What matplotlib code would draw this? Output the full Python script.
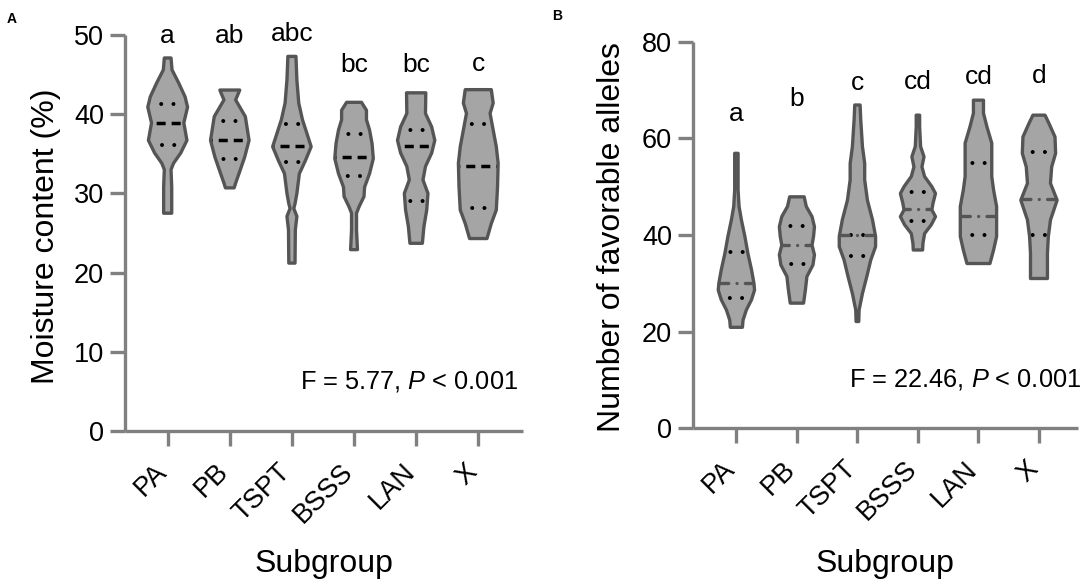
import numpy as np
import matplotlib
matplotlib.use("Agg")
import matplotlib.pyplot as plt
from matplotlib.patches import Polygon
from matplotlib.transforms import ScaledTranslation

# ---- data ----
subgroups = ["PA", "PB", "TSPT", "BSSS", "LAN", "X"]

# panel A: moisture content (%), violin outline (y from top to bottom, half width in category units)
moist_y = [
    [47.1, 45.6, 43.9, 42.2, 40.9, 38.9, 36.7, 35.1, 33.8, 33.0, 30.8, 27.5],
    [43.05, 41.8, 39.7, 36.7, 34.6, 33.0, 31.3, 30.7],
    [47.3, 44.3, 41.4, 39.3, 37.6, 35.9, 34.2, 32.5, 30.0, 28.7, 28.1, 27.1, 25.4, 21.2],
    [41.5, 40.5, 39.3, 38.0, 36.3, 34.4, 32.5, 30.8, 29.6, 28.3, 27.5, 25.4, 22.9],
    [42.7, 40.1, 38.4, 36.7, 35.1, 33.4, 31.7, 30.0, 27.9, 25.8, 23.7],
    [43.1, 41.4, 40.1, 38.0, 35.9, 33.8, 30.8, 27.9, 26.2, 24.3],
]
moist_w = [
    [0.054, 0.07, 0.18, 0.28, 0.32, 0.26, 0.31, 0.21, 0.094, 0.054, 0.065, 0.065],
    [0.16, 0.094, 0.25, 0.31, 0.24, 0.17, 0.094, 0.07],
    [0.065, 0.08, 0.11, 0.17, 0.24, 0.31, 0.22, 0.12, 0.08, 0.05, 0.03, 0.08, 0.055, 0.05],
    [0.12, 0.20, 0.20, 0.25, 0.29, 0.31, 0.25, 0.17, 0.16, 0.08, 0.04, 0.04, 0.055],
    [0.155, 0.15, 0.25, 0.30, 0.25, 0.15, 0.11, 0.19, 0.17, 0.125, 0.10],
    [0.21, 0.24, 0.19, 0.24, 0.29, 0.32, 0.31, 0.29, 0.21, 0.14],
]
moist_median = [38.9, 36.7, 36.0, 34.6, 36.0, 33.4]
moist_q1 = [36.1, 34.4, 34.0, 32.2, 29.0, 28.1]
moist_q3 = [41.3, 39.2, 38.8, 37.5, 38.0, 38.8]
moist_letters = ["a", "ab", "abc", "bc", "bc", "c"]
moist_letter_y = [49.0, 49.0, 49.2, 45.3, 45.3, 45.4]

# panel B: number of favorable alleles
allele_y = [
    [56.9, 49.3, 45.9, 43.1, 39.7, 36.2, 32.8, 30.0, 28.6, 26.6, 24.5, 22.4, 20.9],
    [47.9, 45.9, 43.8, 41.7, 39.7, 37.9, 35.9, 33.8, 31.4, 28.6, 25.9],
    [66.9, 63.8, 58.3, 54.8, 51.4, 47.2, 43.1, 39.7, 37.6, 34.8, 31.4, 27.9, 24.5, 22.1],
    [64.8, 62.4, 58.3, 56.2, 54.1, 52.1, 50.0, 48.6, 46.6, 45.2, 43.8, 42.1, 40.3, 38.3, 36.9],
    [67.9, 65.2, 62.4, 59.0, 55.5, 52.1, 49.3, 45.9, 43.1, 39.7, 36.9, 34.1],
    [64.8, 63.1, 60.3, 56.9, 54.1, 50.7, 47.2, 45.9, 43.1, 39.7, 36.2, 31.0],
]
allele_w = [
    [0.028, 0.028, 0.044, 0.083, 0.14, 0.19, 0.25, 0.29, 0.30, 0.25, 0.165, 0.11, 0.10],
    [0.12, 0.155, 0.25, 0.29, 0.275, 0.25, 0.29, 0.265, 0.165, 0.14, 0.11],
    [0.044, 0.055, 0.083, 0.12, 0.12, 0.165, 0.25, 0.30, 0.30, 0.22, 0.155, 0.083, 0.028, 0.022],
    [0.028, 0.028, 0.044, 0.10, 0.066, 0.11, 0.23, 0.29, 0.25, 0.23, 0.29, 0.22, 0.11, 0.083, 0.077],
    [0.083, 0.083, 0.14, 0.22, 0.22, 0.22, 0.25, 0.30, 0.30, 0.30, 0.25, 0.19],
    [0.10, 0.165, 0.265, 0.275, 0.21, 0.19, 0.30, 0.265, 0.19, 0.155, 0.14, 0.14],
]
allele_median = [30.0, 37.9, 39.9, 45.4, 43.9, 47.4]
allele_q1 = [27.0, 33.9, 35.7, 42.9, 40.0, 40.0]
allele_q3 = [36.4, 41.9, 40.1, 49.0, 55.0, 57.2]
allele_letters = ["a", "b", "c", "cd", "cd", "d"]
allele_letter_y = [63.6, 66.7, 70.1, 70.3, 71.2, 71.5]

# ---- style ----
FIG_W, FIG_H = 10.84, 5.8
plt.rcParams["font.family"] = ["Liberation Sans", "DejaVu Sans"]
plt.rcParams["mathtext.fontset"] = "custom"
plt.rcParams["mathtext.rm"] = "Liberation Sans"
plt.rcParams["mathtext.it"] = "Liberation Sans:italic"
plt.rcParams["lines.scale_dashes"] = False

axis_grey = "#808080"
fill_grey = "#a5a5a5"
edge_grey = "#555555"

fig = plt.figure(figsize=(FIG_W, FIG_H), dpi=100)
axA = fig.add_axes([125 / 1084, 1 - 431 / 580, 398 / 1084, 396 / 580])
axB = fig.add_axes([693 / 1084, 1 - 428.3 / 580, 385 / 1084, 386.6 / 580])


def style_axes(ax, xlim, ylim, yticks):
    ax.set_xlim(*xlim)
    ax.set_ylim(*ylim)
    ax.set_yticks(yticks)
    ax.set_xticks(range(len(subgroups)))
    ax.set_xticklabels(subgroups, rotation=45, ha="right", va="top")
    for s in ["top", "right"]:
        ax.spines[s].set_visible(False)
    for s in ["left", "bottom"]:
        ax.spines[s].set_color(axis_grey)
        ax.spines[s].set_linewidth(2.4)
        ax.spines[s].set_capstyle("butt")
    ax.tick_params(axis="both", colors=axis_grey, width=2.4, length=11,
                   labelcolor="black", labelsize=19.5)
    ax.tick_params(axis="x", pad=9)
    ax.tick_params(axis="y", pad=4)
    off = ScaledTranslation(4 / 100, 0, fig.dpi_scale_trans)
    for lab in ax.get_xticklabels():
        lab.set_transform(lab.get_transform() + off)


def centred_style(length, pattern, phase_at_centre):
    period = sum(pattern)
    return ((phase_at_centre - length / 2) % period, pattern)


def draw_violins(ax, ys, ws, med, q1, q3, median_kind):
    xl = ax.get_xlim()
    ppu = ax.get_position().width * FIG_W * 72 / (xl[1] - xl[0])
    for i in range(len(ys)):
        y = np.array(ys[i])
        w = np.array(ws[i])
        pts = np.concatenate([np.column_stack([i + w, y]),
                              np.column_stack([i - w[::-1], y[::-1]])])
        body = Polygon(pts, closed=True, facecolor=fill_grey, edgecolor="none",
                       zorder=2)
        ax.add_patch(body)

        # quartiles: black dots, kept clear of the outline
        for q in (q1[i], q3[i]):
            hw = np.interp(q, y[::-1], w[::-1]) - 2.0 / ppu
            L = 2 * hw * ppu
            pat = (0.01, 8.8)
            ln, = ax.plot([i - hw, i + hw], [q, q], color="black", lw=2.9,
                          solid_capstyle="round", dash_capstyle="round",
                          linestyle=centred_style(L, pat, 0.01 + 4.4), zorder=3)
            ln.set_clip_path(body)

        hw = np.interp(med[i], y[::-1], w[::-1])
        L = 2 * hw * ppu
        if median_kind == "dash":
            pat = (6.5, 4.3)
            ln, = ax.plot([i - hw, i + hw], [med[i], med[i]], color="black",
                          lw=2.5, dash_capstyle="butt",
                          linestyle=centred_style(L, pat, 6.5 + 2.15), zorder=4)
        else:
            pat = (6.0, 6.0, 0.01, 6.0)
            ln, = ax.plot([i - hw, i + hw], [med[i], med[i]], color=edge_grey,
                          lw=2.4, dash_capstyle="round",
                          linestyle=centred_style(L, pat, 12.0), zorder=4)
        ln.set_clip_path(body)

        outline = Polygon(pts, closed=True, facecolor="none", edgecolor=edge_grey,
                          lw=2.4, joinstyle="round", zorder=5)
        ax.add_patch(outline)


style_axes(axA, (-0.687, 5.72), (0, 50), range(0, 51, 10))
style_axes(axB, (-0.717, 5.645), (0, 80), range(0, 81, 20))

draw_violins(axA, moist_y, moist_w, moist_median, moist_q1, moist_q3, "dash")
draw_violins(axB, allele_y, allele_w, allele_median, allele_q1, allele_q3, "dashdot")

for i, t in enumerate(moist_letters):
    axA.text(i, moist_letter_y[i], t, ha="center", va="baseline", fontsize=19)
for i, t in enumerate(allele_letters):
    axB.text(i, allele_letter_y[i], t, ha="center", va="baseline", fontsize=19)

axA.text(5.64, 5.4, r"F = 5.77, $P$ < 0.001", ha="right", va="baseline",
         fontsize=18.3, clip_on=False)
axB.text(5.69, 8.6, r"F = 22.46, $P$ < 0.001", ha="right", va="baseline",
         fontsize=18.3, clip_on=False)

fig.text(46 / 1084, 1 - 236 / 580, "Moisture content (%)", rotation=90,
         ha="center", va="center", fontsize=23)
fig.text(612 / 1084, 1 - 237 / 580, "Number of favorable alleles", rotation=90,
         ha="center", va="center", fontsize=23)
fig.text(324 / 1084, 1 - 572 / 580, "Subgroup", ha="center", va="baseline",
         fontsize=23)
fig.text(885 / 1084, 1 - 572 / 580, "Subgroup", ha="center", va="baseline",
         fontsize=23)
fig.text(7 / 1084, 1 - 23 / 580, "A", fontsize=10, fontweight="bold",
         va="baseline")
fig.text(552 / 1084, 1 - 20 / 580, "B", fontsize=10, fontweight="bold",
         va="baseline")

fig.savefig("out.png", dpi=100)
